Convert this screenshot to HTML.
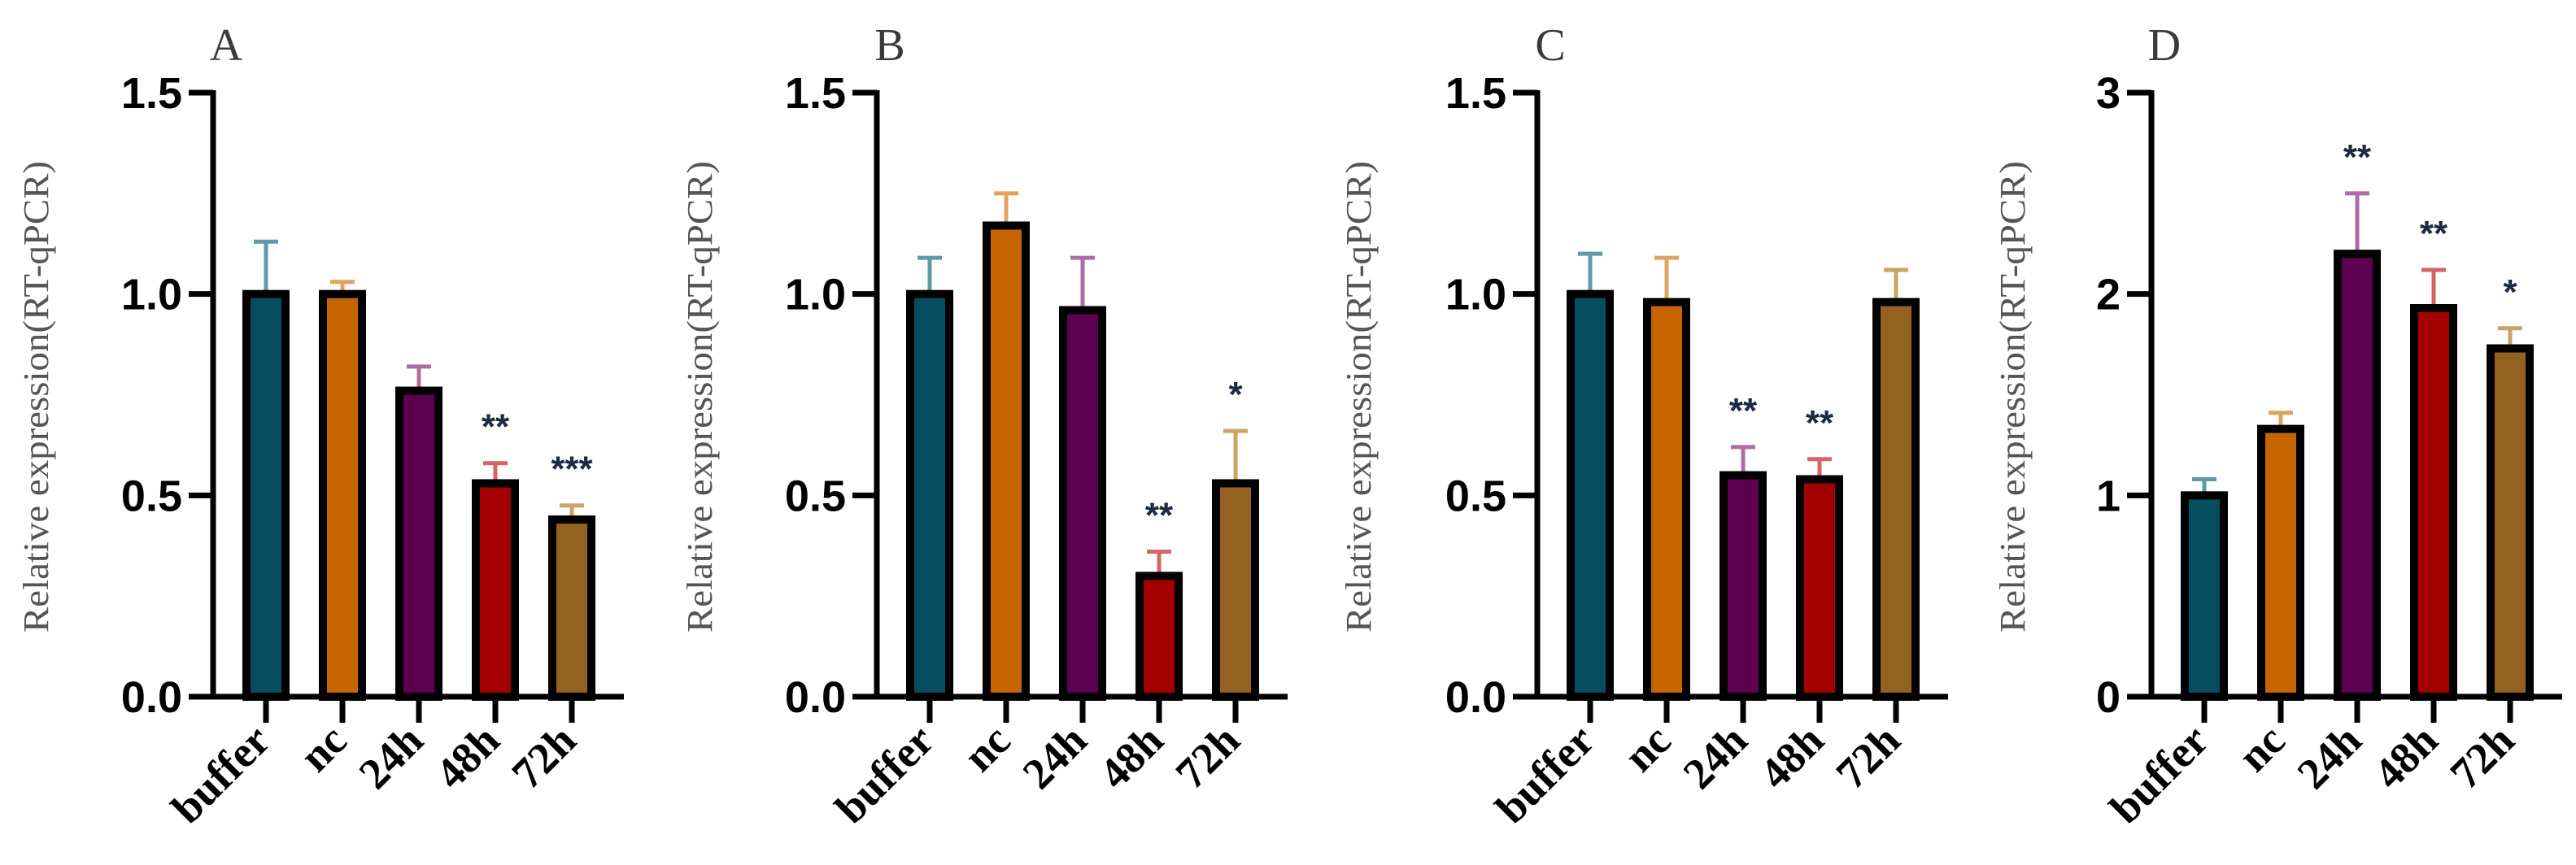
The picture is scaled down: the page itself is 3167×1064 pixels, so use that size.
<!DOCTYPE html>
<html><head><meta charset="utf-8">
<style>
html,body{margin:0;padding:0;background:#fff;}
svg{display:block;}
</style></head>
<body>
<svg id="chart" width="3167" height="1064" viewBox="0 0 3167 1064" xmlns="http://www.w3.org/2000/svg">
<rect width="3167" height="1064" fill="#fff"/>
</svg>
<script>
const categories = ["buffer","nc","24h","48h","72h"];
const panelLetters = ["A","B","C","D"];
const valuesA = [1.0, 1.0, 0.76, 0.53, 0.44];
const errorsA = [0.13, 0.03, 0.06, 0.05, 0.035];
const starsA = ["", "", "", "**", "***"];
const valuesB = [1.0, 1.17, 0.96, 0.30, 0.53];
const errorsB = [0.09, 0.08, 0.13, 0.06, 0.13];
const starsB = ["", "", "", "**", "*"];
const valuesC = [1.0, 0.98, 0.55, 0.54, 0.98];
const errorsC = [0.10, 0.11, 0.07, 0.05, 0.08];
const starsC = ["", "", "**", "**", ""];
const valuesD = [1.0, 1.33, 2.2, 1.93, 1.73];
const errorsD = [0.08, 0.08, 0.3, 0.19, 0.10];
const starsD = ["", "", "**", "**", "*"];
const ticksABC = [0, 0.5, 1.0, 1.5];
const tickLabelsABC = ["0.0","0.5","1.0","1.5"];
const ticksD = [0, 1, 2, 3];
const tickLabelsD = ["0","1","2","3"];

const NS = "http://www.w3.org/2000/svg";
const svg = document.getElementById("chart");
const fill = ["#064d60","#c66400","#5e0050","#a40000","#936120"];
const errCol = ["#5f9aa8","#e0a45e","#b06ca6","#d56464","#c9a466"];
function mk(tag, attrs, parent){ const e=document.createElementNS(NS,tag); for(const k in attrs) e.setAttribute(k,attrs[k]); (parent||svg).appendChild(e); return e; }

const panels = [
 {axisX:262, vals:valuesA, errs:errorsA, stars:starsA, ticks:ticksABC, labels:tickLabelsABC, max:1.5, titleOff:213},
 {axisX:1078, vals:valuesB, errs:errorsB, stars:starsB, ticks:ticksABC, labels:tickLabelsABC, max:1.5, titleOff:213},
 {axisX:1890, vals:valuesC, errs:errorsC, stars:starsC, ticks:ticksABC, labels:tickLabelsABC, max:1.5, titleOff:215},
 {axisX:2645, vals:valuesD, errs:errorsD, stars:starsD, ticks:ticksD, labels:tickLabelsD, max:3, titleOff:166}
];
const yTop = 114, yZero = 857;

panels.forEach((p, pi) => {
  const g = mk("g", {});
  
  
  const y = v => yZero - (v / p.max) * (yZero - yTop);
  const x = i => p.axisX + 65 + i * 94;

  const L = mk("text", {x:p.axisX+16, y:74, "font-family":"Liberation Serif, serif", "font-size":56, fill:"#3a3a3a", "text-anchor":"middle"}, g);
  L.textContent = panelLetters[pi];
  
  

  const tx = p.axisX - p.titleOff, ty = 488;
  const T = mk("text", {x:tx, y:ty, transform:`rotate(-90 ${tx} ${ty})`, "font-family":"Liberation Serif, serif", "font-size":44, fill:"#555", "text-anchor":"middle", "dominant-baseline":"middle", textLength:580, lengthAdjust:"spacingAndGlyphs"}, g);
  T.textContent = "Relative expression(RT-qPCR)";
  
  

  p.vals.forEach((v, i) => {
    const cx = x(i);
    const top = y(v);
    const et = y(v + p.errs[i]);
    const eb = mk("line", {x1:cx, x2:cx, y1:top, y2:et, stroke:errCol[i], "stroke-width":5}, g);
    
    
    const ec = mk("line", {x1:cx-15, x2:cx+15, y1:et, y2:et, stroke:errCol[i], "stroke-width":5}, g);
    
    
    const r = mk("rect", {x:cx-24, y:top, width:48, height:yZero-top, fill:fill[i], stroke:"#000", "stroke-width":10}, g);
    
    
    if (p.stars[i]) {
      const s = mk("text", {x:cx, y:et - 30, "font-family":"Liberation Sans, sans-serif", "font-weight":"bold", "font-size":44, fill:"#1c2a44", "text-anchor":"middle"}, g);
      s.textContent = p.stars[i];
      
      
    }
    const t = mk("line", {x1:cx, x2:cx, y1:yZero, y2:yZero+32, stroke:"#000", "stroke-width":7}, g);
    
    
    const lx = cx + 8, ly = 914;
    const xl = mk("text", {x:lx, y:ly, transform:`rotate(-45 ${lx} ${ly})`, "font-family":"Liberation Serif, serif", "font-weight":"bold", "font-size":54, fill:"#000", "text-anchor":"end"}, g);
    xl.textContent = categories[i];
    
    
  });

  const ya = mk("line", {x1:p.axisX, x2:p.axisX, y1:yTop-3, y2:yZero, stroke:"#000", "stroke-width":7}, g);
  
  
  const xa = mk("line", {x1:p.axisX-25, x2:p.axisX+505, y1:yZero, y2:yZero, stroke:"#000", "stroke-width":7}, g);
  
  

  p.ticks.forEach((tv, k) => {
    const yy = y(tv);
    const tk = mk("line", {x1:p.axisX-30, x2:p.axisX, y1:yy, y2:yy, stroke:"#000", "stroke-width":7}, g);
    
    
    const tl = mk("text", {x:p.axisX-38, y:yy+19, "font-family":"Liberation Sans, sans-serif", "font-weight":"bold", "font-size":54, fill:"#000", "text-anchor":"end"}, g);
    tl.textContent = p.labels[k];
    
    
  });
});
</script>
</body></html>
